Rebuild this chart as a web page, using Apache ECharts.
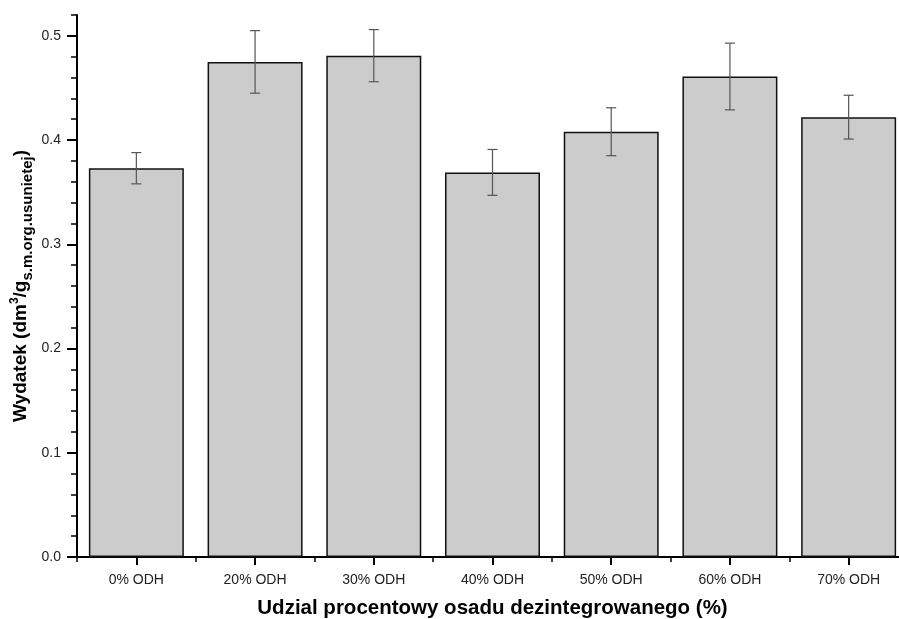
<!DOCTYPE html>
<html>
<head>
<meta charset="utf-8">
<script src="https://cdn.jsdelivr.net/npm/echarts@6/dist/echarts.min.js"></script>
<style>
html,body{margin:0;padding:0;background:#fff;}
#chart{width:899px;height:619px;}
</style>
</head>
<body>
<div id="chart"></div>
<script>
var categories = ['0% ODH', '20% ODH', '30% ODH', '40% ODH', '50% ODH', '60% ODH', '70% ODH'];
var values = [0.373, 0.475, 0.481, 0.369, 0.408, 0.461, 0.422];
var errors = [0.015, 0.030, 0.025, 0.022, 0.023, 0.032, 0.021];
var yMajorTicks = [0, 0.1, 0.2, 0.3, 0.4, 0.5];
var yMin = 0, yMax = 0.52, yMinorStep = 0.02;

var FONT = 'Liberation Sans, Arial, sans-serif';
var chart = echarts.init(document.getElementById('chart'), null, {renderer: 'canvas'});

var errData = values.map(function (v, i) { return [i, v - errors[i], v + errors[i]]; });

var option = {
  backgroundColor: '#ffffff',
  animation: false,
  grid: {left: 77, top: 15, width: 831, height: 542, containLabel: false, outerBoundsMode: 'none'},
  xAxis: [{
    type: 'category',
    data: categories,
    position: 'bottom',
    axisLine: {show: true, onZero: false, lineStyle: {color: '#000', width: 2}},
    axisTick: {show: true, alignWithLabel: true, length: 8, lineStyle: {color: '#000', width: 2}},
    axisLabel: {color: '#222', fontSize: 14, fontFamily: FONT, margin: 16},
    splitLine: {show: false},
    name: 'Udzial procentowy osadu dezintegrowanego (%)',
    nameLocation: 'middle',
    nameGap: 41,
    nameMoveOverlap: false,
    nameTextStyle: {color: '#000', fontSize: 20.5, fontWeight: 'bold', fontFamily: FONT}
  }, {
    type: 'category',
    data: categories,
    position: 'bottom',
    axisLine: {show: false},
    axisTick: {show: true, alignWithLabel: false, length: 5, lineStyle: {color: '#000', width: 1.5}},
    axisLabel: {show: false},
    splitLine: {show: false}
  }],
  yAxis: [{
    type: 'value',
    min: yMin,
    max: yMax,
    interval: 0.1,
    position: 'left',
    axisLine: {show: true, onZero: false, lineStyle: {color: '#000', width: 2}},
    axisTick: {show: true, length: 10, customValues: yMajorTicks, lineStyle: {color: '#000', width: 2}},
    axisLabel: {color: '#222', fontSize: 14, fontFamily: FONT, margin: 16, customValues: yMajorTicks,
      formatter: function (v) { return v.toFixed(1); }},
    splitLine: {show: false},
    name: '{m|Wydatek (dm}{sup|3}{m|/g}{sub|s.m.org.usunietej}{m|)}',
    nameLocation: 'middle',
    nameGap: 42,
    nameMoveOverlap: false,
    nameTextStyle: {
      color: '#000', fontFamily: FONT,
      rich: {
        m: {fontSize: 19, fontWeight: 'bold', fontFamily: FONT, color: '#000', lineHeight: 28, verticalAlign: 'middle'},
        sup: {fontSize: 12, fontWeight: 'bold', fontFamily: FONT, color: '#000', lineHeight: 28, verticalAlign: 'top', padding: [2, 0, 0, 0]},
        sub: {fontSize: 15, fontWeight: 'bold', fontFamily: FONT, color: '#000', lineHeight: 28, verticalAlign: 'bottom'}
      }
    }
  }, {
    type: 'value',
    min: yMin,
    max: yMax,
    interval: yMinorStep,
    position: 'left',
    axisLine: {show: false},
    axisTick: {show: true, length: 6, lineStyle: {color: '#000', width: 1.5}},
    axisLabel: {show: false},
    splitLine: {show: false}
  }],
  series: [{
    type: 'bar',
    xAxisIndex: 0,
    yAxisIndex: 0,
    data: values,
    barCategoryGap: '20%',
    itemStyle: {color: '#cccccc', borderColor: '#111', borderWidth: 1.5},
    z: 2
  }, {
    type: 'custom',
    xAxisIndex: 0,
    yAxisIndex: 0,
    data: errData,
    clip: false,
    z: 5,
    renderItem: function (params, api) {
      var x = api.value(0);
      var lo = api.coord([x, api.value(1)]);
      var hi = api.coord([x, api.value(2)]);
      var half = 5;
      var st = {stroke: '#555', lineWidth: 1.2};
      return {
        type: 'group',
        children: [
          {type: 'line', shape: {x1: hi[0], y1: hi[1], x2: lo[0], y2: lo[1]}, style: st},
          {type: 'line', shape: {x1: hi[0] - half, y1: hi[1], x2: hi[0] + half, y2: hi[1]}, style: st},
          {type: 'line', shape: {x1: lo[0] - half, y1: lo[1], x2: lo[0] + half, y2: lo[1]}, style: st}
        ]
      };
    }
  }]
};
chart.setOption(option);
</script>
</body>
</html>
